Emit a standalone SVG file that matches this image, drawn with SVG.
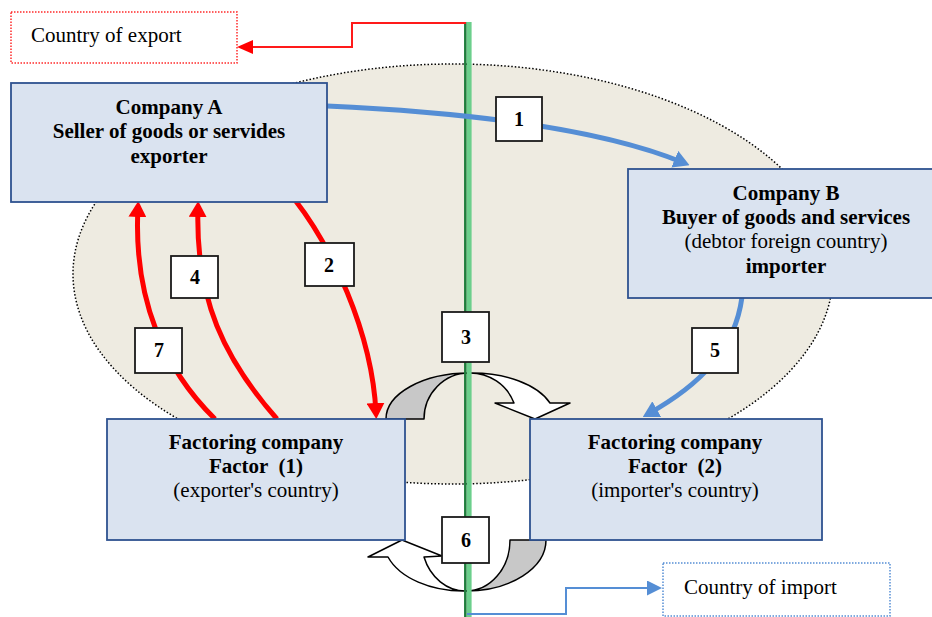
<svg xmlns="http://www.w3.org/2000/svg" width="932" height="617" viewBox="0 0 932 617">
<style>
.box{fill:#dae3f0;stroke:#2e5290;stroke-width:1.8}
.lbl{fill:#ffffff;stroke:#1a1a1a;stroke-width:1.8}
.t{font-family:"Liberation Serif","Times New Roman",serif;font-size:21px;fill:#000;text-anchor:middle}
.b{font-weight:bold}
.num{font-family:"Liberation Serif","Times New Roman",serif;font-size:20px;font-weight:bold;text-anchor:middle;fill:#000}
.red{fill:none;stroke:#ff0000;stroke-width:5}
.blue{fill:none;stroke:#558ed5;stroke-width:5}
.block{stroke:#000;stroke-width:1.5;stroke-linejoin:round}
</style>
<defs>
<marker id="ahRed" markerUnits="userSpaceOnUse" viewBox="0 0 16 18" markerWidth="16" markerHeight="18" refX="10" refY="9" orient="auto"><path d="M0,0 L16,9 L0,18 z" fill="#ff0000"/></marker>
<marker id="ahBlue" markerUnits="userSpaceOnUse" viewBox="0 0 16 18" markerWidth="16" markerHeight="18" refX="10" refY="9" orient="auto"><path d="M0,0 L16,9 L0,18 z" fill="#558ed5"/></marker>
<marker id="ahRedThin" markerUnits="userSpaceOnUse" viewBox="0 0 16 14" markerWidth="16" markerHeight="14" refX="13" refY="7" orient="auto"><path d="M0,0 L16,7 L0,14 z" fill="#ff0000"/></marker>
<marker id="ahBlueThin" markerUnits="userSpaceOnUse" viewBox="0 0 15 15" markerWidth="15" markerHeight="15" refX="12" refY="7.5" orient="auto"><path d="M0,0 L15,7.5 L0,15 z" fill="#558ed5"/></marker>
</defs>

<g id="background">
<ellipse cx="453" cy="274" rx="380" ry="210" fill="#eeebe1" stroke="#000" stroke-width="1.5" stroke-dasharray="1.5 2"/>
</g>

<g id="connectors">
<g id="flow3">
<path class="block" fill="#c8c8c8" d="M386,419 A83,46 0 0 1 469,373 A45,46 0 0 0 424,419 Z"/>
<path class="block" fill="#ffffff" d="M469,373 A83,46 0 0 1 550,403 L570,403 L535,419 L495,403 L514,403 A47,46 0 0 0 469,373 Z"/>
</g>
<g id="flow6">
<path class="block" fill="#c8c8c8" d="M546,540 A80,51 0 0 1 466,591 A44,51 0 0 0 510,540 Z"/>
<path class="block" fill="#ffffff" d="M466,591 A80,51 0 0 1 388,557 L368,557 L402,540 L442,556 L424,557 A44,51 0 0 0 466,591 Z"/>
</g>
<g id="border-line">
<rect x="466.6" y="22" width="5" height="595" fill="#6ccf8c"/>
<line x1="465.3" y1="22" x2="465.3" y2="617" stroke="#1f7d3c" stroke-width="2.5"/>
</g>
<path d="M466,23 H352 V47 H240" fill="none" stroke="#ff1a1a" stroke-width="2" marker-end="url(#ahRedThin)"/>
<path d="M467,614 H566 V588 H659" fill="none" stroke="#558ed5" stroke-width="2" marker-end="url(#ahBlueThin)"/>
<path class="blue" d="M327,106 C460,112 600,128 684,163" marker-end="url(#ahBlue)"/>
<path class="blue" d="M742,297 C735,350 700,385 648,414" marker-end="url(#ahBlue)"/>
<path class="red" d="M295,200 C330,245 372,330 376,413" marker-end="url(#ahRed)"/>
<path class="red" d="M277,419 C225,360 195,300 198,207" marker-end="url(#ahRed)"/>
<path class="red" d="M215,419 C165,370 133,300 138,207" marker-end="url(#ahRed)"/>
</g>

<g id="country-export">
<rect x="11" y="12" width="226" height="51" fill="#fff" stroke="#ff2a2a" stroke-width="1.5" stroke-dasharray="1.5 1.5"/>
<text class="t" x="31" y="42" style="text-anchor:start">Country of export</text>
</g>
<g id="country-import">
<rect x="663" y="563" width="227" height="53" fill="#fff" stroke="#558ed5" stroke-width="1.5" stroke-dasharray="1.5 1.5"/>
<text class="t" x="684" y="594" style="text-anchor:start">Country of import</text>
</g>

<g id="company-a">
<rect class="box" x="11" y="83" width="316" height="119"/>
<text class="t b" x="169" y="114">Company A</text>
<text class="t b" x="169" y="138">Seller of goods or servides</text>
<text class="t b" x="169" y="163">exporter</text>
</g>
<g id="company-b">
<rect class="box" x="628" y="169" width="320" height="129"/>
<text class="t b" x="786" y="200">Company B</text>
<text class="t b" x="786" y="224">Buyer of goods and services</text>
<text class="t" x="786" y="248">(debtor foreign country)</text>
<text class="t b" x="786" y="273">importer</text>
</g>
<g id="factor-1">
<rect class="box" x="107" y="419" width="298" height="121"/>
<text class="t b" x="256" y="449">Factoring company</text>
<text class="t b" x="256" y="473" xml:space="preserve">Factor  (1)</text>
<text class="t" x="256" y="497">(exporter's country)</text>
</g>
<g id="factor-2">
<rect class="box" x="530" y="419" width="292" height="121"/>
<text class="t b" x="675" y="449">Factoring company</text>
<text class="t b" x="675" y="473" xml:space="preserve">Factor  (2)</text>
<text class="t" x="675" y="497">(importer's country)</text>
</g>

<g id="step-labels">
<g id="label-1"><rect class="lbl" x="496" y="97" width="46" height="44"/><text class="num" x="519" y="126">1</text></g>
<g id="label-2"><rect class="lbl" x="305" y="243" width="49" height="43"/><text class="num" x="329" y="272">2</text></g>
<g id="label-3"><rect class="lbl" x="442" y="312" width="47" height="50"/><text class="num" x="466" y="344">3</text></g>
<g id="label-4"><rect class="lbl" x="171" y="256" width="47" height="42"/><text class="num" x="195" y="284">4</text></g>
<g id="label-5"><rect class="lbl" x="692" y="328" width="46" height="45"/><text class="num" x="715" y="357">5</text></g>
<g id="label-6"><rect class="lbl" x="442" y="517" width="47" height="46"/><text class="num" x="466" y="547">6</text></g>
<g id="label-7"><rect class="lbl" x="135" y="328" width="47" height="45"/><text class="num" x="159" y="357">7</text></g>
</g>
</svg>
